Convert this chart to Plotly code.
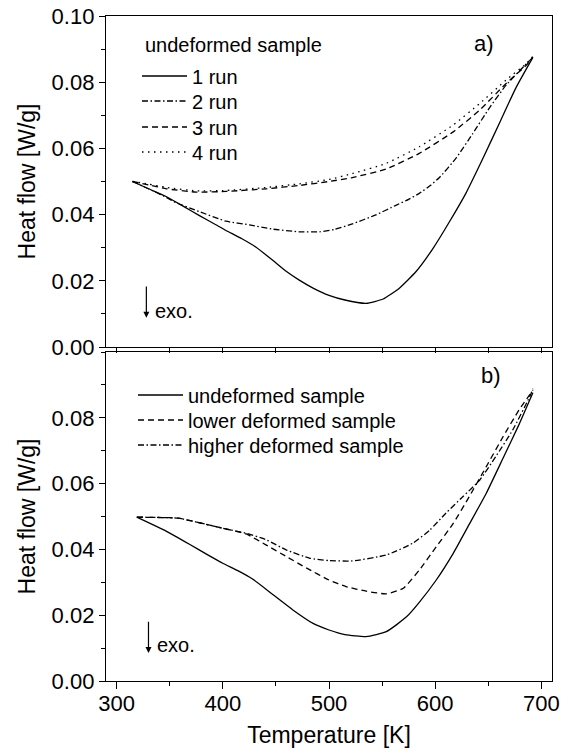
import plotly.graph_objects as go

# ---------------- data ----------------
# panel a) undeformed sample, four runs
run1_T = [315, 330, 347, 363, 378, 393, 403, 418, 431, 447, 460, 472, 485, 500, 515, 535, 551, 566, 582, 598, 613, 629, 645, 661, 676, 692]
run1_v = [0.0500, 0.0478, 0.0454, 0.0425, 0.0397, 0.0370, 0.0352, 0.0327, 0.0302, 0.0262, 0.0228, 0.0202, 0.0178, 0.0156, 0.0142, 0.0132, 0.0145, 0.0177, 0.0228, 0.0298, 0.0376, 0.0465, 0.0570, 0.0680, 0.0783, 0.0875]

run2_T = [315, 330, 345, 356, 378, 403, 425, 447, 472, 491, 505, 522, 544, 563, 575, 585, 595, 604, 620, 635, 651, 667, 686, 692]
run2_v = [0.0500, 0.0478, 0.0455, 0.0436, 0.0409, 0.0380, 0.0369, 0.0356, 0.0348, 0.0348, 0.0355, 0.0372, 0.0399, 0.0428, 0.0446, 0.0464, 0.0487, 0.0512, 0.0572, 0.0643, 0.0722, 0.0792, 0.0856, 0.0875]

run3_T = [315, 330, 347, 375, 403, 441, 472, 500, 522, 554, 585, 617, 642, 667, 686, 692]
run3_v = [0.0500, 0.0490, 0.0478, 0.0468, 0.0470, 0.0478, 0.0488, 0.0500, 0.0512, 0.0538, 0.0585, 0.0650, 0.0716, 0.0797, 0.0852, 0.0875]

run4_T = [315, 330, 347, 375, 403, 441, 472, 500, 522, 554, 585, 617, 642, 667, 686, 692]
run4_v = [0.0500, 0.0492, 0.0482, 0.0472, 0.0473, 0.0482, 0.0493, 0.0506, 0.0524, 0.0555, 0.0605, 0.0671, 0.0736, 0.0807, 0.0857, 0.0878]

# panel b) three samples
und_T = [319, 333, 347, 369, 385, 400, 415, 428, 447, 466, 485, 500, 515, 535, 554, 573, 585, 601, 617, 632, 648, 664, 679, 692]
und_v = [0.0498, 0.0477, 0.0455, 0.0415, 0.0385, 0.0358, 0.0334, 0.0310, 0.0263, 0.0216, 0.0175, 0.0155, 0.0141, 0.0135, 0.0150, 0.0195, 0.0239, 0.0307, 0.0388, 0.0476, 0.0570, 0.0678, 0.0780, 0.0876]

low_T = [319, 340, 358, 378, 403, 422, 441, 460, 479, 500, 516, 535, 554, 570, 585, 601, 617, 632, 648, 664, 679, 692]
low_v = [0.0498, 0.0497, 0.0495, 0.0481, 0.0462, 0.0447, 0.0413, 0.0378, 0.0343, 0.0307, 0.0287, 0.0273, 0.0265, 0.0282, 0.0337, 0.0408, 0.0479, 0.0560, 0.0651, 0.0743, 0.0824, 0.0884]

high_T = [319, 340, 358, 378, 403, 422, 441, 460, 482, 500, 522, 554, 579, 595, 610, 626, 642, 657, 673, 689, 692]
high_v = [0.0498, 0.0497, 0.0495, 0.0481, 0.0462, 0.0449, 0.0429, 0.0398, 0.0373, 0.0366, 0.0365, 0.0383, 0.0419, 0.0459, 0.0510, 0.0560, 0.0611, 0.0682, 0.0763, 0.0864, 0.0888]

x_ticks = [300, 400, 500, 600, 700]
y_ticks_a = [0.00, 0.02, 0.04, 0.06, 0.08, 0.10]
y_ticks_b = [0.00, 0.02, 0.04, 0.06, 0.08]

# ---------------- styles ----------------
FONT = "Liberation Sans, Arial, Helvetica, sans-serif"
SOLID = "solid"
DASH = "6px,4px"
DASHDOT = "6px,2.5px,1.5px,2.5px"
DOT = "1.5px,4.5px"
LW = 1.3

# page body margin is removed (post_script below), so figure pixels = screenshot pixels
W, H = 574, 751
PLOT_L, PLOT_R, PLOT_T, PLOT_B = 106, 552, 16, 681
L, R, T_, B = PLOT_L, W - PLOT_R, PLOT_T, H - PLOT_B
PH = PLOT_B - PLOT_T
PW = PLOT_R - PLOT_L

def py(p):  # pixel row -> paper y
    return (PLOT_B - p) / PH

def px(p):  # pixel column -> paper x
    return (p - PLOT_L) / PW

fig = go.Figure()

def add(T, v, name, dash, xa, ya, legend):
    fig.add_trace(go.Scatter(x=T, y=v, mode="lines", name=name,
                             line=dict(color="black", width=LW, dash=dash, shape="spline", smoothing=0.5),
                             xaxis=xa, yaxis=ya, legend=legend, hoverinfo="skip"))

add(run1_T, run1_v, "1 run", SOLID, "x", "y", "legend")
add(run2_T, run2_v, "2 run", DASHDOT, "x", "y", "legend2")
add(run3_T, run3_v, "3 run", DASH, "x", "y", "legend3")
add(run4_T, run4_v, "4 run", DOT, "x", "y", "legend4")

add(und_T, und_v, "undeformed sample", SOLID, "x2", "y2", "legend5")
add(low_T, low_v, "lower deformed sample", DASH, "x2", "y2", "legend6")
add(high_T, high_v, "higher deformed sample", DASHDOT, "x2", "y2", "legend7")

axis_common = dict(showline=True, linecolor="black", linewidth=1.3, mirror=True,
                   ticks="outside", tickcolor="black", tickwidth=1.2,
                   showgrid=False, zeroline=False, automargin=False,
                   ticklabeloverflow="allow",
                   tickfont=dict(family=FONT, size=22, color="black"))

minor_y = dict(dtick=0.01, tick0=0, ticks="outside", ticklen=4, tickcolor="black", tickwidth=1.2)
xr = [290, 710]

leg_font = dict(family=FONT, size=20, color="black")
def leg(xp, ypix):
    return dict(x=px(xp), y=py(ypix), xanchor="left", yanchor="middle", bgcolor="rgba(0,0,0,0)",
                font=leg_font, itemwidth=45, borderwidth=0)

ytitle = dict(text="Heat flow [W/g]", font=dict(family=FONT, size=23, color="black"), standoff=9)

fig.update_layout(
    template="none",
    width=W, height=H,
    margin=dict(l=L, r=R, t=T_, b=B, autoexpand=False),
    paper_bgcolor="white", plot_bgcolor="white",
    font=dict(family=FONT, color="black"),
    hovermode=False,
    xaxis=dict(domain=[0, 1], range=xr, anchor="y", tickvals=x_ticks, showticklabels=False,
               ticklen=5, minor=dict(dtick=50, tick0=0, ticks="outside", ticklen=5, tickcolor="black", tickwidth=1.2),
               **axis_common),
    yaxis=dict(domain=[py(347), 1], range=[0, 0.10], anchor="x", tickvals=y_ticks_a, tickformat=".2f",
               ticklen=6, minor=minor_y, title=ytitle, **axis_common),
    xaxis2=dict(domain=[0, 1], range=xr, anchor="y2", tickvals=x_ticks,
                ticklen=7, ticklabelstandoff=-5,
                minor=dict(dtick=50, tick0=0, ticks="outside", ticklen=4, tickcolor="black", tickwidth=1.2),
                title=dict(text="Temperature [K]", font=dict(family=FONT, size=23, color="black"), standoff=12),
                **axis_common),
    yaxis2=dict(domain=[0, py(352)], range=[0, 0.10], anchor="x2", tickvals=y_ticks_b, tickformat=".2f",
                ticklen=6, minor=minor_y, title=ytitle, **axis_common),
    legend=leg(137, 76), legend2=leg(137, 101), legend3=leg(137, 127), legend4=leg(137, 152),
    legend5=leg(133, 395), legend6=leg(133, 420), legend7=leg(133, 445),
    showlegend=True,
)

# legend header for panel a)
fig.add_annotation(text="undeformed sample", xref="paper", yref="paper", x=px(143), y=py(45),
                   xanchor="left", yanchor="middle", showarrow=False, font=leg_font)

# panel labels
fig.add_annotation(text="a)", xref="paper", yref="paper", x=px(484), y=py(43),
                   xanchor="center", yanchor="middle", showarrow=False, font=dict(family=FONT, size=22, color="black"))
fig.add_annotation(text="b)", xref="paper", yref="paper", x=px(491), y=py(375),
                   xanchor="center", yanchor="middle", showarrow=False, font=dict(family=FONT, size=22, color="black"))

# exo. arrows
for xa, ya, x0, ytop, ybot, ytxt in [("x", "y", 328, 0.0187, 0.0088, 0.0108), ("x2", "y2", 330, 0.0185, 0.0085, 0.0110)]:
    fig.add_annotation(x=x0, y=ybot, ax=x0, ay=ytop, xref=xa, yref=ya, axref=xa, ayref=ya,
                       text="", showarrow=True, arrowhead=2, arrowsize=1.0, arrowwidth=1.2, arrowcolor="black")
    fig.add_annotation(x=x0 + 6, y=ytxt, xref=xa, yref=ya, text="exo.", showarrow=False,
                       xanchor="left", font=dict(family=FONT, size=20, color="black"))

fig.write_html("out.html", config={"displayModeBar": False},
               post_script="document.body.style.margin='0px';")
